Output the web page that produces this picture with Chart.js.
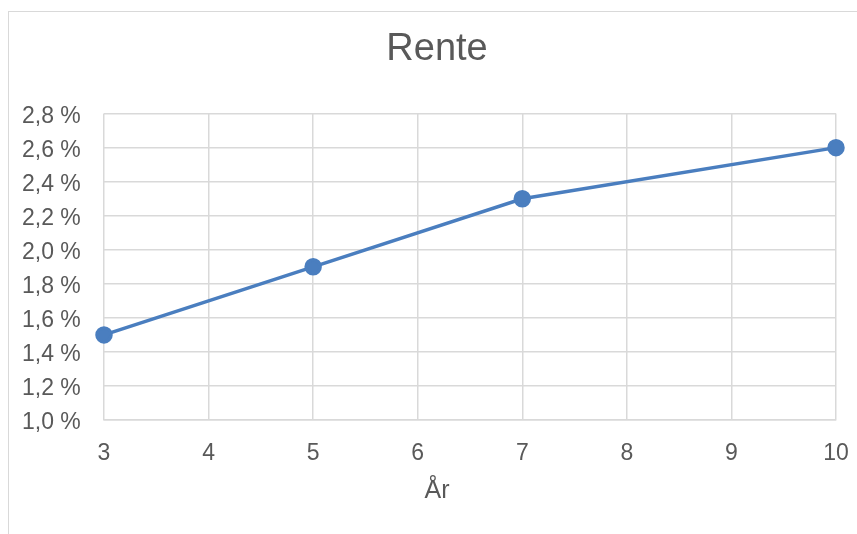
<!DOCTYPE html>
<html>
<head>
<meta charset="utf-8">
<script src="https://cdn.jsdelivr.net/npm/chart.js@4"></script>
<style>
  html, body { margin: 0; padding: 0; background: #fff; overflow: hidden; }
  #wrap { position: relative; width: 857px; height: 534px; }
  #frame { position: absolute; left: 8px; top: 11px; width: 900px; height: 600px; border: 1.5px solid #d9d9d9; }
  canvas { position: absolute; left: 0; top: 0; }
</style>
</head>
<body>
<div id="wrap">
  <div id="frame"></div>
  <canvas id="renteChart" width="857" height="534"></canvas>
</div>
<script>
const aar = [3, 5, 7, 10];
const rente = [1.5, 1.9, 2.3, 2.6];

document.addEventListener("DOMContentLoaded", function() {
    const ctx = document.getElementById('renteChart').getContext('2d');
    new Chart(ctx, {
        type: 'line',
        data: {
            datasets: [{
                label: 'Rente',
                data: aar.map((x, i) => ({ x: x, y: rente[i] })),
                borderColor: '#4A7EBF',
                backgroundColor: '#4A7EBF',
                borderWidth: 3.5,
                pointRadius: 7,
                pointHoverRadius: 7,
                tension: 0,
                clip: false
            }]
        },
        options: {
            responsive: false,
            devicePixelRatio: 1,
            animation: false,
            layout: { padding: { top: 0, right: 21, bottom: 0, left: 38 } },
            scales: {
                x: {
                    type: 'linear',
                    min: 3,
                    max: 10,
                    afterFit: s => { s.height = 56; s.paddingLeft = 0; s.paddingRight = 0; },
                    grid: { color: '#d9d9d9', lineWidth: 1.5, drawTicks: false },
                    border: { color: '#d9d9d9', width: 1.5 },
                    ticks: { stepSize: 1, color: '#595959', font: { family: 'Liberation Sans', size: 23 }, padding: 20 }
                },
                y: {
                    min: 1.0,
                    max: 2.8,
                    afterFit: s => { s.width = 66; s.paddingTop = 0; s.paddingBottom = 0; },
                    grid: { color: '#d9d9d9', lineWidth: 1.5, drawTicks: false },
                    border: { display: false },
                    ticks: {
                        stepSize: 0.2,
                        mirror: true,
                        padding: -82,
                        color: '#595959',
                        font: { family: 'Liberation Sans', size: 23, lineHeight: 0.26 },
                        // empty first line nudges the label a few px below its gridline, as in Excel
                        callback: v => ['', v.toFixed(1).replace('.', ',') + ' %']
                    }
                }
            },
            plugins: {
                legend: { display: false },
                tooltip: { enabled: false },
                title: {
                    display: true,
                    text: 'Rente',
                    color: '#595959',
                    font: { family: 'Liberation Sans', size: 38, weight: 'normal' },
                    padding: { top: 27, bottom: 41 }
                },
                subtitle: {
                    display: true,
                    position: 'bottom',
                    text: 'År',
                    color: '#595959',
                    font: { family: 'Liberation Sans', size: 25, weight: 'normal' },
                    padding: { top: 0, bottom: 28 }
                }
            }
        }
    });
});
</script>
</body>
</html>
